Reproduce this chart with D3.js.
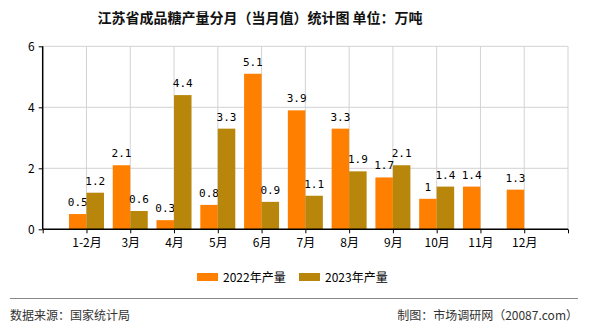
<!DOCTYPE html>
<html><head><meta charset="utf-8">
<script src="https://cdn.jsdelivr.net/npm/d3@7"></script>
<style>body{margin:0;background:#fff}svg{display:block}</style>
</head><body>
<svg id="c" width="590" height="330"></svg>
<script>
const categories = ["1-2月","3月","4月","5月","6月","7月","8月","9月","10月","11月","12月"];
const values2022 = [0.5,2.1,0.3,0.8,5.1,3.9,3.3,1.7,1,1.4,1.3];
const values2023 = [1.2,0.6,4.4,3.3,0.9,1.1,1.9,2.1,1.4,null,null];
const yTicks = [0,2,4,6];
const seriesNames = ["2022年产量","2023年产量"];
const colors = ["#FF8000","#B8860B"];

const svg = d3.select("#c");
const font = "'Noto Sans CJK SC','DejaVu Sans',sans-serif";
const x = d3.scaleLinear().domain([0, categories.length + 1]).range([42.7, 568]);
const y = d3.scaleLinear().domain([0, 6]).range([229.3, 46.3]);
const bw = 17.5;

// title
svg.append("text").attr("x", 260).attr("y", 23).attr("text-anchor", "middle")
  .attr("font-family", font).attr("font-size", 14).attr("font-weight", "bold").attr("fill", "#111")
  .text("江苏省成品糖产量分月（当月值）统计图 单位：万吨");

// grid
const g = svg.append("g");
g.selectAll("line.h").data(yTicks.filter(d => d > 0)).join("line")
  .attr("x1", x(0)).attr("x2", x(12)).attr("y1", d => y(d)).attr("y2", d => y(d))
  .attr("stroke", "#d3d3d3").attr("stroke-width", 1);
g.selectAll("line.v").data(d3.range(1, 13)).join("line")
  .attr("x1", d => x(d)).attr("x2", d => x(d)).attr("y1", y(6)).attr("y2", y(0))
  .attr("stroke", "#d3d3d3").attr("stroke-width", 1);

// bars
const series = [values2022, values2023];
series.forEach((vals, si) => {
  const data = vals.map((v, i) => ({v, i})).filter(d => d.v != null);
  svg.append("g").selectAll("rect").data(data).join("rect")
    .attr("x", d => x(d.i + 1) - bw + si * bw)
    .attr("width", bw)
    .attr("y", d => y(d.v))
    .attr("height", d => y(0) - y(d.v))
    .attr("fill", colors[si]);
  svg.append("g").selectAll("text").data(data).join("text")
    .attr("x", d => x(d.i + 1) - bw / 2 + si * bw)
    .attr("y", d => y(d.v) - 8)
    .attr("text-anchor", "middle")
    .attr("font-family", "'DejaVu Sans Mono',monospace").attr("font-size", 11).attr("fill", "#000")
    .text(d => d.v);
});

// axes
const yAxis = d3.axisLeft(y).tickValues(yTicks).tickSize(4).tickPadding(4).tickFormat(d3.format("d"));
const ya = svg.append("g").attr("transform", `translate(${x(0)},0)`).call(yAxis);
const xAxis = d3.axisBottom(x).tickValues(d3.range(0, 13)).tickSize(4).tickPadding(5)
  .tickFormat(d => (d >= 1 && d <= categories.length) ? categories[d - 1] : "");
const xa = svg.append("g").attr("transform", `translate(0,${y(0)})`).call(xAxis);
[ya, xa].forEach(a => {
  a.select(".domain").attr("stroke", "#000").attr("stroke-width", 1.5);
  a.selectAll(".tick line").attr("stroke", "#000");
  a.selectAll("text").attr("font-family", font).attr("font-size", 12).attr("fill", "#000");
});
ya.select(".domain").attr("d", `M0,${y(6)}V${y(0)}`);
xa.select(".domain").attr("d", `M${x(0)},0H${x(12)}`);

// legend
const lg = svg.append("g");
const lx = [197, 299];
seriesNames.forEach((n, i) => {
  lg.append("rect").attr("x", lx[i]).attr("y", 273).attr("width", 21).attr("height", 8).attr("fill", colors[i]);
  lg.append("text").attr("x", lx[i] + 26).attr("y", 281.5).attr("font-family", font).attr("font-size", 12)
    .attr("fill", "#000").text(n);
});

// footer
svg.append("line").attr("x1", 10).attr("x2", 578).attr("y1", 298.5).attr("y2", 298.5).attr("stroke", "#888").attr("stroke-width", 1);
svg.append("text").attr("x", 10).attr("y", 320).attr("font-family", font).attr("font-size", 12).attr("fill", "#333").text("数据来源：国家统计局");
svg.append("text").attr("x", 578).attr("y", 320).attr("text-anchor", "end").attr("font-family", font).attr("font-size", 12).attr("fill", "#333").text("制图：市场调研网（20087.com）");
</script>
</body></html>
